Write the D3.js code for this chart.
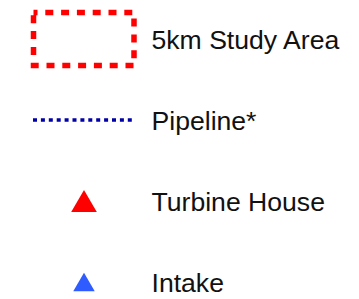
<!DOCTYPE html>
<html>
<head>
<meta charset="utf-8">
<script src="https://cdn.jsdelivr.net/npm/d3@7"></script>
<style>
  body { margin: 0; background: #fff; }
  text { font-family: "Liberation Sans", Arial, sans-serif; }
</style>
</head>
<body>
<div id="legend"></div>
<script>
// legend entries, top to bottom
var labels = ["5km Study Area", "Pipeline*", "Turbine House", "Intake"];
var symbolKinds = ["rect", "line", "triangle", "triangle"];

var width = 359, height = 299;

var svg = d3.select("#legend")
  .append("svg")
  .attr("width", width)
  .attr("height", height);

// rows are spaced evenly down the page
var y = d3.scalePoint()
  .domain(labels)
  .range([39, 282]);

// symbol column
var sym = svg.selectAll("g.sym")
  .data(labels)
  .enter()
  .append("g")
    .attr("class", "sym")
    .attr("transform", function(d){ return "translate(0," + y(d) + ")"; });

sym.each(function(d, i) {
  var g = d3.select(this);
  if (symbolKinds[i] == "rect") {
    g.append("rect")
      .attr("x", 33.5)
      .attr("y", -26.5)
      .attr("width", 100.5)
      .attr("height", 53)
      .style("fill", "none")
      .style("stroke", "#ff0000")
      .style("stroke-width", 5.5)
      .style("stroke-dasharray", "8,7.8")
      .style("stroke-dashoffset", 4);
  } else if (symbolKinds[i] == "line") {
    g.append("line")
      .attr("x1", 33)
      .attr("x2", 134)
      .attr("y1", 0)
      .attr("y2", 0)
      .style("stroke", "#0000a8")
      .style("stroke-width", 3.6)
      .style("stroke-dasharray", "4,3.9");
  } else {
    // red one is a bit bigger than the blue one
    var r = i == 2 ? 7.4 : 6.2;
    var size = r * r * 3 * Math.sqrt(3);
    g.append("path")
      .attr("d", d3.symbol().type(d3.symbolTriangle).size(size)())
      .attr("transform", "translate(84," + (r / 2) + ")")
      .style("fill", i == 2 ? "#ff0000" : "#2e5cff");
  }
});

// and the labels
svg.selectAll("text.label")
  .data(labels)
  .enter()
  .append("text")
    .attr("class", "label")
    .attr("x", 151.5)
    .attr("y", function(d){ return y(d) + 9.5; })
    .text(function(d){ return d; })
    .attr("font-size", "26.6px")
    .attr("fill", "#111");
</script>
</body>
</html>
